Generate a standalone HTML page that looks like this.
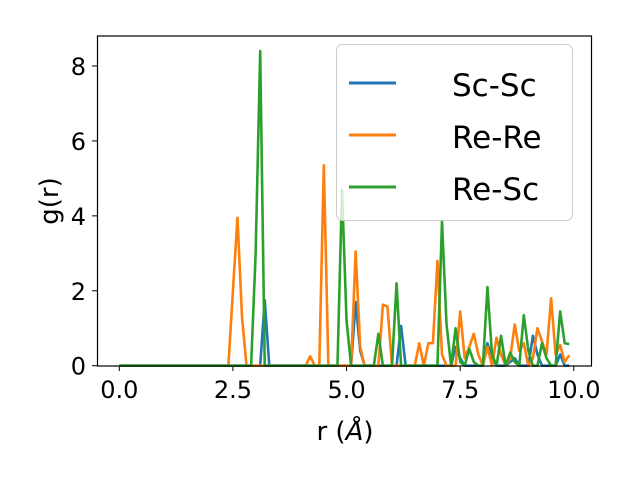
<!DOCTYPE html>
<html><head><meta charset="utf-8"><style>
body{margin:0;background:#fff}
svg{display:block;font-family:"DejaVu Sans","Liberation Sans",sans-serif}
</style></head><body>
<svg id="chart" width="640" height="480">
<rect width="640" height="480" fill="#fff"/>
<g id="ticks"></g>
<g id="series"></g>
<rect x="97.5" y="36" width="494" height="330" fill="none" stroke="#000" stroke-width="1.2"/>
<text x="345" y="440" font-size="26" text-anchor="middle">r (<tspan font-style="italic">Å</tspan>)</text>
<text transform="translate(58,201) rotate(-90)" font-size="26" text-anchor="middle">g(r)</text>
<g>
<rect x="336.5" y="44.5" width="236" height="176" rx="6" fill="#fff" fill-opacity="0.8" stroke="#ccc"/>
<line x1="349" y1="83" x2="396" y2="83" stroke="#1f77b4" stroke-width="3"/>
<text x="452" y="96" font-size="31">Sc-Sc</text>
<line x1="349" y1="135" x2="396" y2="135" stroke="#ff7f0e" stroke-width="3"/>
<text x="452" y="148" font-size="31">Re-Re</text>
<line x1="349" y1="187" x2="396" y2="187" stroke="#2ca02c" stroke-width="3"/>
<text x="452" y="200" font-size="31">Re-Sc</text>
</g>
</svg>
<script>
const xTicks=[0,2.5,5,7.5,10];
const xTickLabels=["0.0","2.5","5.0","7.5","10.0"];
const yTicks=[0,2,4,6,8];
const yTickLabels=["0","2","4","6","8"];
const rValues=Array.from({length:100},(_,i)=>i/10);
const scsc=[0,0,0,0,0,0,0,0,0,0,0,0,0,0,0,0,0,0,0,0,0,0,0,0,0,0,0,0,0,0,0,0,1.75,0,0,0,0,0,0,0,0,0,0,0,0,0,0,0,0,0,0,0,1.7,0.4,0,0,0,0,0,0,0,0,1.06,0,0,0,0,0,0,0,0,0,0,0,0.5,0.2,0,0,0,0,0,0.6,0.2,0,0,0,0.1,0.2,0,0,0,0.8,0.3,0,0,0,0,0.3,0,0];
const rere=[0,0,0,0,0,0,0,0,0,0,0,0,0,0,0,0,0,0,0,0,0,0,0,0,0,2.0,3.95,1.3,0,0,0,0,0,0,0,0,0,0,0,0,0,0,0.25,0,0,5.35,0,0,0,0,0,0,3.05,0.5,0,0,0,0,1.63,1.58,0,0,0,0,0,0,0.6,0,0.6,0.6,2.8,0.3,0,0,0,1.45,0.2,0.5,0.85,0.3,0,0.5,0,0.75,0.3,0,0.2,1.1,0.4,0.6,0,0.2,1.0,0.65,0.3,1.8,0.3,0.55,0.1,0.28];
const resc=[0,0,0,0,0,0,0,0,0,0,0,0,0,0,0,0,0,0,0,0,0,0,0,0,0,0,0,0,0,0,3.0,8.4,0,0,0,0,0,0,0,0,0,0,0,0,0,0,0,0,0,4.7,1.2,0,0,0,0,0,0,0.85,0,0,0,2.2,0,0,0,0,0,0,0,0,0,3.85,1.1,0,1.0,0.1,0,0.45,0.1,0,0,2.1,0.3,0,0.8,0,0.35,0.1,0,1.35,0.4,0,0,0.6,0.2,0,0,1.45,0.6,0.58];
const NS="http://www.w3.org/2000/svg";
const sx=v=>119.3+v*45.45;
const sy=v=>365.7-v*37.46;
const tg=document.getElementById('ticks');
xTicks.forEach((t,i)=>{
 const l=document.createElementNS(NS,'line');
 l.setAttribute('x1',sx(t));l.setAttribute('x2',sx(t));l.setAttribute('y1',366);l.setAttribute('y2',371);l.setAttribute('stroke','#000');
 
 
 tg.appendChild(l);
 const tx=document.createElementNS(NS,'text');
 tx.setAttribute('x',sx(t));tx.setAttribute('y',398);tx.setAttribute('font-size','24');tx.setAttribute('text-anchor','middle');
 tx.textContent=xTickLabels[i];
 
 
 tg.appendChild(tx);
});
yTicks.forEach((t,i)=>{
 const l=document.createElementNS(NS,'line');
 l.setAttribute('x1',92);l.setAttribute('x2',97.5);l.setAttribute('y1',sy(t));l.setAttribute('y2',sy(t));l.setAttribute('stroke','#000');
 
 
 tg.appendChild(l);
 const tx=document.createElementNS(NS,'text');
 tx.setAttribute('x',86);tx.setAttribute('y',sy(t)+9);tx.setAttribute('font-size','24');tx.setAttribute('text-anchor','end');
 tx.textContent=yTickLabels[i];
 
 
 tg.appendChild(tx);
});
const sg=document.getElementById('series');
[[scsc,'#1f77b4','sc-sc-line'],[rere,'#ff7f0e','re-re-line'],[resc,'#2ca02c','re-sc-line']].forEach(([d,c,n])=>{
 const p=document.createElementNS(NS,'polyline');
 p.setAttribute('points',d.map((v,i)=>sx(rValues[i])+','+sy(v)).join(' '));
 p.setAttribute('fill','none');p.setAttribute('stroke',c);p.setAttribute('stroke-width','2.6');p.setAttribute('stroke-linejoin','round');
 
 
 sg.appendChild(p);
});
</script>
</body></html>
